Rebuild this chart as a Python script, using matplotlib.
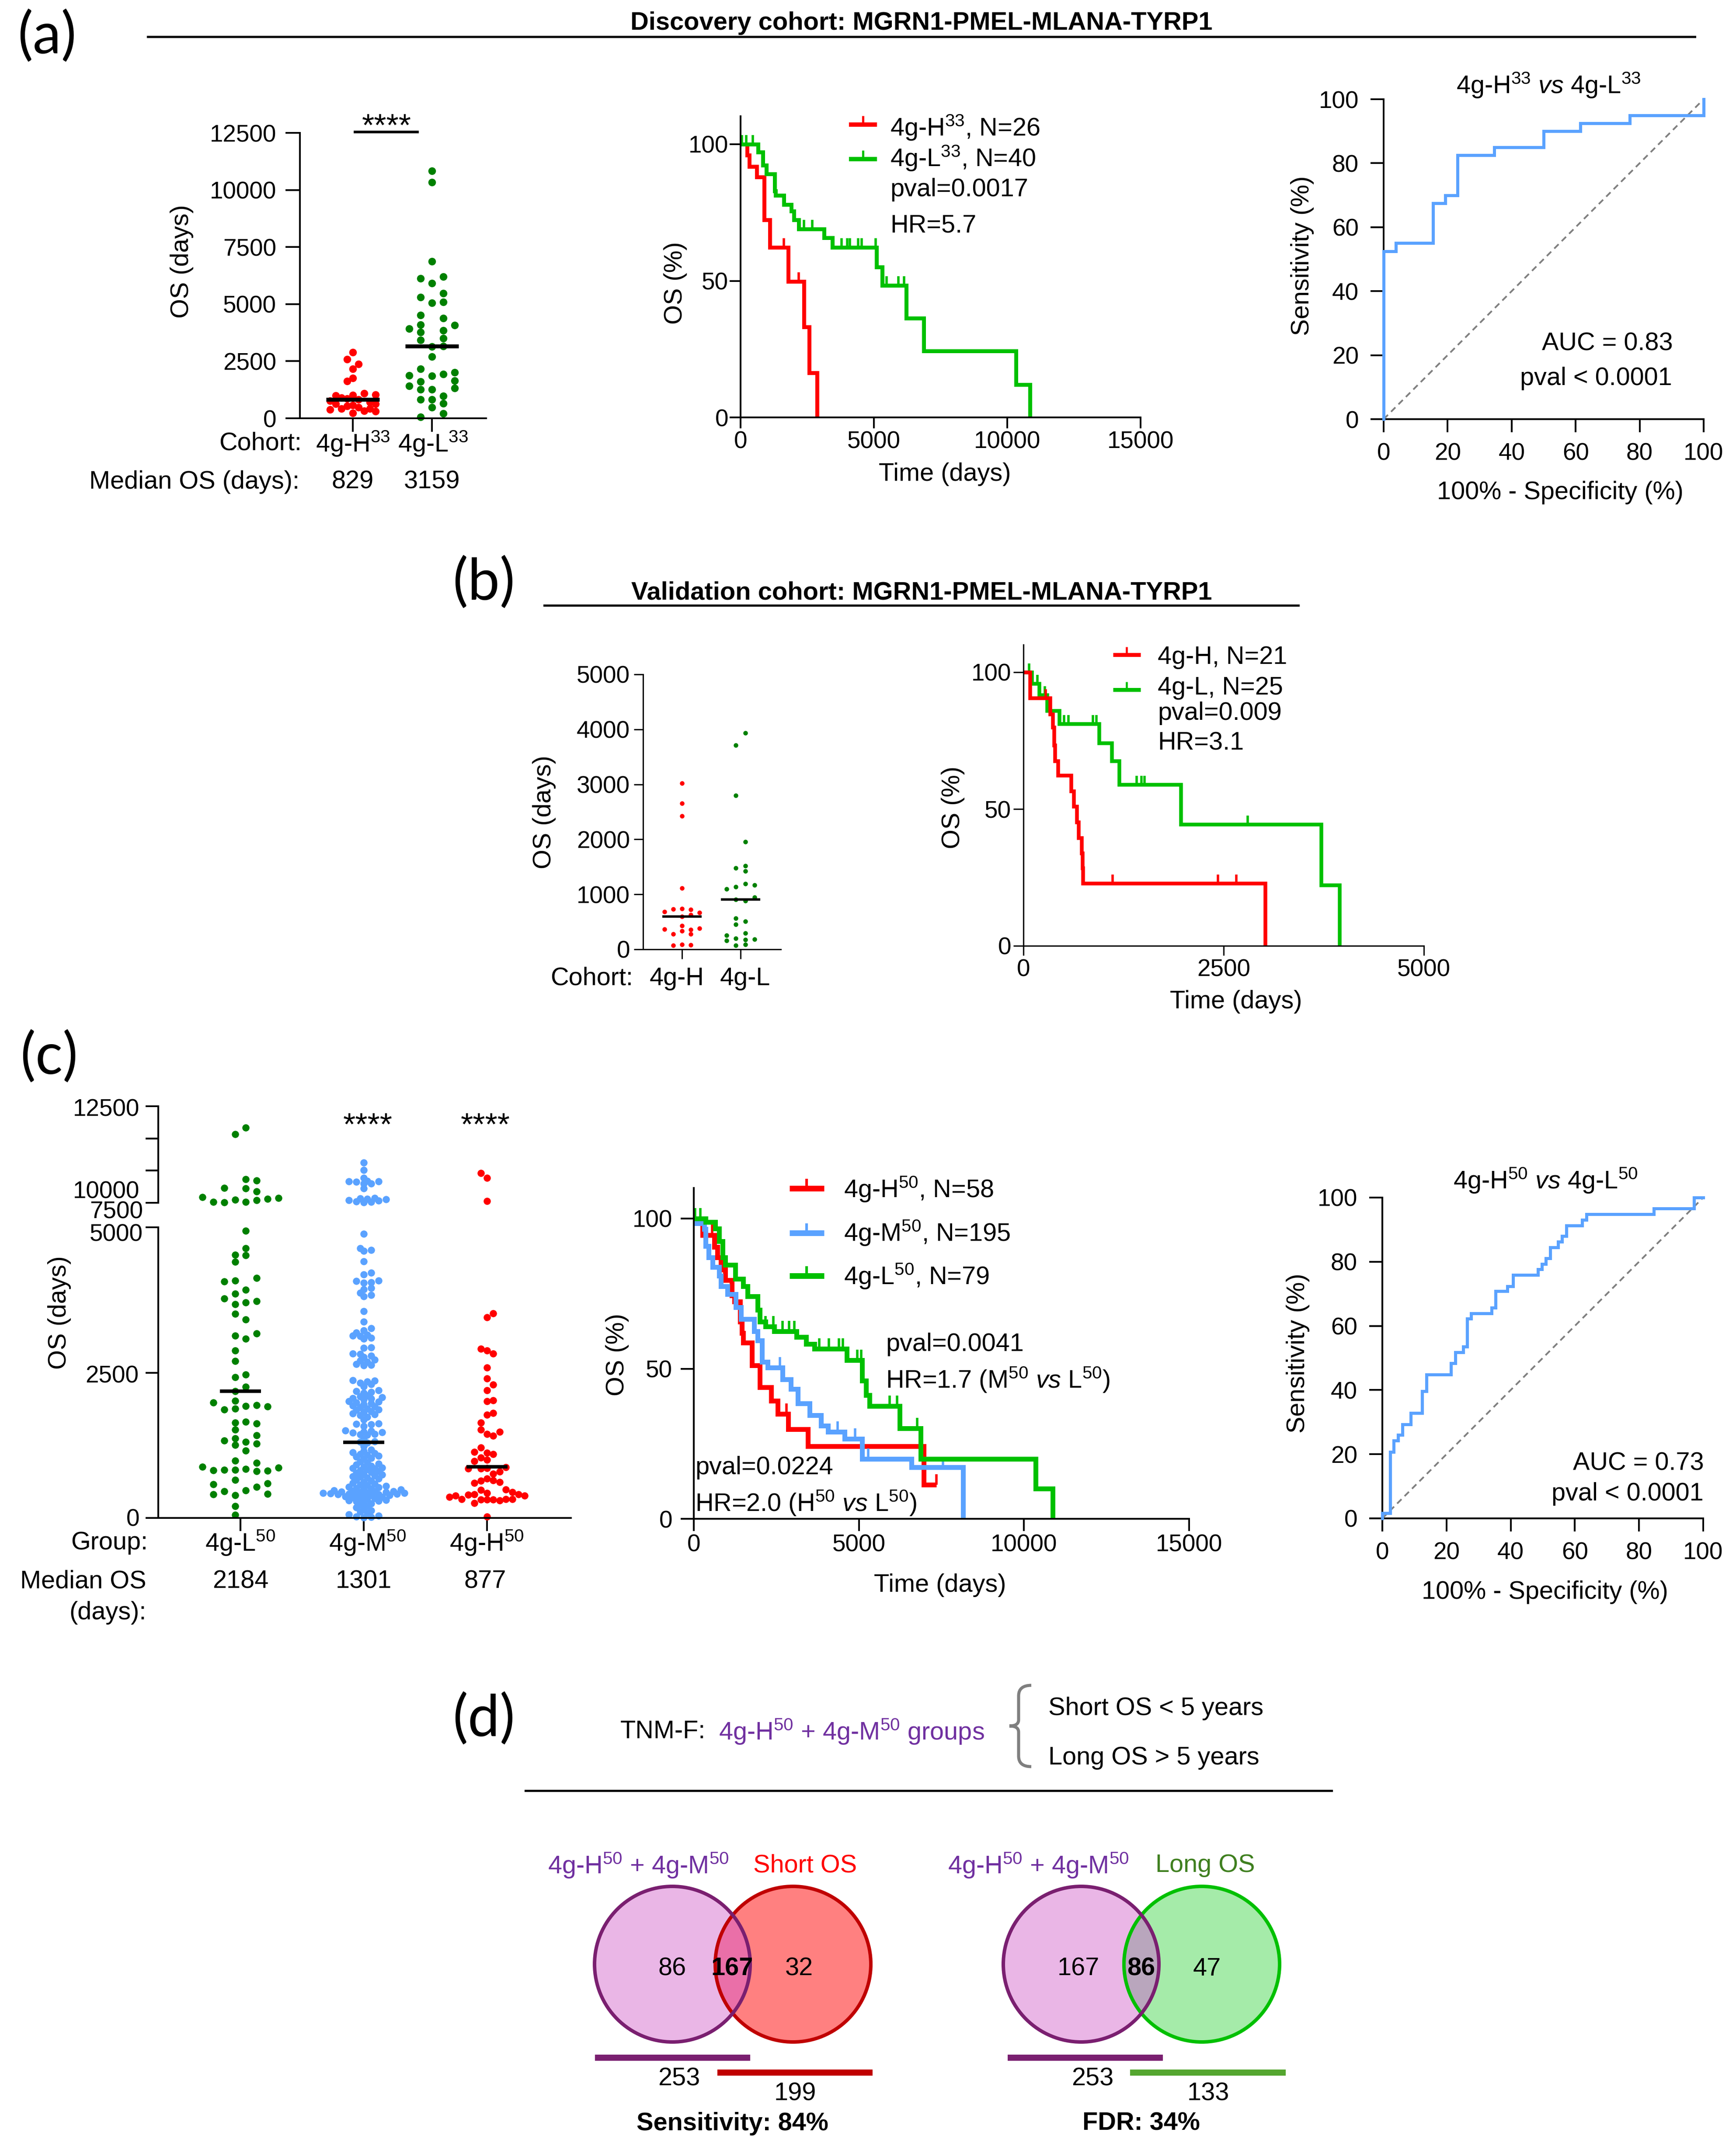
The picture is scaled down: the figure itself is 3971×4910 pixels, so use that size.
import numpy as np
import matplotlib
matplotlib.use("Agg")
import matplotlib.pyplot as plt
from matplotlib.patches import Circle, PathPatch
from matplotlib.path import Path

plt.rcParams['font.family'] = ['Liberation Sans', 'DejaVu Sans']
plt.rcParams['mathtext.fontset'] = 'custom'
plt.rcParams['mathtext.rm'] = 'Liberation Sans'
plt.rcParams['mathtext.it'] = 'Liberation Sans:italic'
plt.rcParams['mathtext.bf'] = 'Liberation Sans:bold'
plt.rcParams['mathtext.default'] = 'regular'

W, H = 3971, 4910
DPI = 100

RED = '#ff0000'
DOT_GREEN = '#008000'
KM_GREEN = '#00c000'
BLUE = '#5aa2ff'
PURPLE = '#7030a0'

# ---- panel a, dot plot: OS in days and the swarm column of each dot
a_h_os = [2881, 2588, 2383, 2168, 1768, 1631, 1035, 1094, 986, 1016, 898, 869, 820, 771, 700, 625,
          625, 576, 527, 430, 478, 381, 430, 332, 312, 234]
a_h_col = [0, -1, 1, 0, 0, -1, 4, 2, -3, 0, -2, -1, 1, -4, 3, 4, -3, 0, -1, -2, 1, -4, 3, 2, 4, 0]
a_l_os = [10840, 10332, 6865, 6211, 6123, 5908, 5469, 5303, 5098, 5049, 4512, 4385, 4102, 4072,
          3916, 3848, 3770, 3506, 3418, 3164, 3135, 2695, 2168, 2012, 1934, 1875, 1865, 1650, 1611,
          1426, 1318, 1260, 1260, 967, 830, 820, 645, 469, 205, 59]
a_l_col = [0, 0, 0, 1, -1, 0, 1, -1, 1, 0, -1, 1, -1, 2, -2, 1, -1, 1, -1, 1, 0, 0, -1, 2, 1, -2,
           0, 2, -1, -2, 2, -1, 0, 1, 0, -1, 1, 0, 1, -1]
a_medians = [829, 3159]

# ---- panel a, survival curves
a_km_h_x = [238, 326, 602, 878, 1091, 1780, 2382, 2570, 2871]
a_km_h_y = [96, 91.9, 88, 72.3, 62.3, 49.8, 33.1, 16.3, 0]
a_km_h_cens = [1630, 2182]
a_km_l_x = [652, 840, 966, 1279, 1317, 1630, 1906, 2006, 2182, 3135, 3436, 5104, 5317, 6207, 6872,
            10333, 10847]
a_km_l_y = [97.2, 92.3, 89.2, 82.9, 81.3, 78, 75.6, 72.3, 69, 65.8, 62.3, 55.1, 48.4, 36.4, 24.3,
            12, 0]
a_km_l_cens = [50, 213, 464, 2383, 2696, 3787, 4000, 4100, 4414, 4540, 5066, 5480, 5919, 6132]

# ---- panel a, ROC
a_roc_x = [0, 0, 3.8, 15.4, 19.2, 23.1, 34.6, 50, 61.5, 76.9, 100]
a_roc_y = [0, 52.5, 55, 67.5, 70, 82.5, 85, 90, 92.5, 95, 100]

# ---- panel b, dot plot
b_h_os = [3021, 2652, 2421, 1115, 734, 738, 726, 685, 669, 629, 596, 430, 385, 369, 357, 333, 276,
          276, 69, 85, 77]
b_h_col = [0, 0, 0, 0, -1, 0, 1, -2, 2, 1, 0, 0, 2, -2, 1, 0, -1, 1, -1, 0, 1]
b_l_os = [3937, 3710, 2798, 1954, 1516, 1476, 1419, 1196, 1172, 1139, 1095, 945, 904, 880, 568, 507,
          450, 292, 255, 199, 162, 178, 182, 69, 85]
b_l_col = [.5, -.5, -.5, .5, .5, -.5, .5, .5, 1.5, -.5, -1.5, 1.5, -.5, .5, -.5, .5, -.5, .5, -1.5,
           -.5, -1.5, .5, 1.5, -.5, .5]
b_medians = [596, 904]

# ---- panel b, survival curves
b_km_h_x = [84, 334, 364, 380, 395, 433, 594, 625, 667, 686, 725, 736, 740, 3017]
b_km_h_y = [90.5, 84.7, 79.9, 73.3, 67.6, 62.3, 56.6, 50.9, 45.2, 39.5, 33.8, 28.5, 22.8, 0]
b_km_h_cens = [276, 1112, 2427, 2657]
b_km_l_x = [104, 199, 295, 449, 947, 1100, 1196, 1963, 3719, 3945]
b_km_l_y = [95.8, 91.7, 86, 81.1, 74.1, 67.5, 59, 44.4, 22.2, 0]
b_km_l_cens = [69, 173, 265, 506, 564, 870, 909, 1415, 1472, 1514, 2799]

# ---- panel c, dot plot
c_l_os = [10836, 10317, 6838, 6730, 6168, 6103, 5887, 5455, 5390, 5304, 5196, 5239, 5066, 5066, 5023,
          4942, 4640, 4529, 4520, 4405, 4126, 4069, 4083, 3925, 3858, 3776, 3728, 3675, 3704, 3512,
          3416, 3171, 3138, 3080, 2879, 2696, 2466, 2418, 2255, 2178, 1986, 2015, 1924, 1938, 1914,
          1866, 1881, 1655, 1636, 1626, 1521, 1420, 1310, 1329, 1367, 1257, 1276, 1161, 984, 950,
          878, 868, 820, 825, 825, 840, 806, 811, 653, 595, 581, 537, 470, 456, 408, 417, 389, 206, 53]
c_l_col = [.5, -.5, .5, 1.5, -1.5, .5, 1.5, -3.5, 3.5, 2.5, 1.5, -.5, .5, -2.5, -1.5,
           .5, .5, -.5, .5, -.5, 1.5, -1.5, -.5, .5, -.5, -1.5, 1.5, -.5, .5, -.5,
           .5, 1.5, -.5, .5, -.5, -.5, .5, -.5, .5, -.5, -2.5, -.5, .5, 1.5, 2.5,
           -1.5, -.5, .5, -.5, 1.5, -.5, 1.5, .5, -1.5, -.5, -.5, 1.5, .5, -.5, 1.5,
           -3.5, 3.5, -2.5, -1.5, -.5, .5, 1.5, 2.5, -.5, 2.5, -2.5, 1.5, .5, -1.5, -2.5, 2.5, -.5,
           -.5, -.5]
c_m_os = [8113, 7530, 6925, 6665, 6709, 6665, 6622, 6492, 6492, 6103, 5325, 5304, 5369, 5260, 5196,
          5153, 5109, 5066, 5044, 4889, 4640, 4611, 4592, 4414, 4218, 4189, 4083, 4073, 4054, 4045,
          3958, 3929, 3872, 3833, 3814, 3560, 3378, 3263, 3224, 3191, 3152, 3138, 3128, 3095, 3080,
          2936, 2922, 2826, 2816, 2792, 2768, 2720, 2706, 2682, 2648, 2634, 2624,
          2370, 2361, 2346, 2327, 2298, 2265, 2193, 2178, 2169, 2154, 2106, 2087, 2073, 2058, 2049,
          2034, 2010, 2001, 1986, 1967, 1953, 1929, 1914, 1905, 1881, 1866, 1857, 1833, 1818, 1794,
          1780, 1770, 1737, 1689, 1626, 1617, 1607, 1579, 1507, 1497, 1483, 1473, 1463, 1444, 1434,
          1425, 1353, 1319, 1305, 1291, 1233, 1175, 1147, 1128, 1113, 1099, 1080, 1065, 1051, 1032,
          1017, 969, 955, 936, 921, 897, 883, 868, 859, 849, 835, 820, 801, 787, 772, 753, 744, 729,
          715, 705, 691, 676, 657, 638, 619, 600, 585, 571, 561, 547, 537, 528, 513, 504, 494, 485,
          475, 465, 461, 456, 451, 446, 441, 437, 432, 427, 422, 417, 413, 408, 403, 398, 393, 389,
          379, 369, 360, 350, 341, 331, 321, 312, 302, 293, 283, 273, 249, 225, 201, 178, 153, 130,
          106, 82, 58, 34, 19, 14, 10]
c_h_os = [7313, 6925, 5131, 3522, 3450, 2908, 2879, 2826, 2586, 2399, 2293, 2193, 2025, 2006, 1804,
          1775, 1636, 1521, 1483, 1444, 1411, 1209, 1137, 1123, 1099, 1041, 1003, 974, 849, 849, 859,
          873, 796, 763, 676, 638, 643, 605, 614, 480, 485, 441, 432, 408, 408, 398, 384, 384, 360,
          321, 317, 317, 317, 297, 321, 321, 259, 19]
c_h_col = [-1, 0, 0, 1, 0, -1, 0, 1, 0, 0, 1, 0, 1, 0, 1,
           0, -1, -1, 2, 0, 1, -1, -2, 0, 1, -1, 0, -2, -3, -1, 0,
           3, 2, 1, 0, -1, 1, -2, 2, -1, 3, 4, 0, 5, -2, -3, -5, 6, -6,
           -4, -1, 0, 1, 2, 3, 4, -2, 0]
c_medians = [2184, 1301, 877]

# ---- panel c, survival curves
c_km_h_x = [263, 617, 719, 820, 951, 1154, 1225, 1397, 1457, 1498, 1761, 2004, 2338, 2540, 2864, 3451,
            6963, 7347]
c_km_h_y = [94.5, 90.5, 87, 83, 79.5, 74.4, 72.4, 65.7, 61.8, 58.6, 51.1, 43.8, 39.3, 34.9, 29.8, 24.1,
            11.3, 11.3]
c_km_h_cens = [550, 2810, 7347]
c_km_m_x = [61, 314, 364, 445, 567, 769, 820, 1022, 1275, 1427, 1832, 1933, 2064, 2237, 2692, 2945, 3147,
            3502, 3856, 4058, 4564, 5100, 6588, 8157]
c_km_m_y = [98.4, 96.5, 90.9, 87, 83.8, 81, 77.5, 74.8, 70.4, 66.5, 62.5, 59.4, 52.3, 50.3, 46.4, 43.2,
            38.5, 34.5, 31, 29, 26.7, 20, 17.2, 0]
c_km_m_cens = [2610, 4360, 4890, 5280, 7550]
c_km_l_x = [364, 648, 769, 870, 951, 1255, 1498, 1629, 1933, 2004, 2166, 2439, 3117, 3400, 3653, 4635, 5100,
            5222, 5323, 6234, 6871, 10353, 10869]
c_km_l_y = [98.8, 96.7, 92.5, 87, 84.6, 79.9, 77.5, 74.1, 69.6, 65.7, 64.1, 62.5, 60.6, 58.2, 56.6, 52.9,
            46, 41.2, 37.5, 30.2, 20, 10.1, 0]
c_km_l_cens = [40, 192, 2166, 2410, 2690, 2890, 3040, 3800, 4090, 4390, 4510, 4950, 5070, 5930, 6150, 6770]

# ---- panel c, ROC
c_roc_x = [0, 0, 2.4, 3.6, 4.9, 6.2, 8.8, 12.4, 13.8, 21.4, 22.7, 25.2, 26.4, 27.7, 34, 35.3, 39, 40.8,
           48.5, 49.7, 51, 52.3, 54.8, 56, 57.3, 62.3, 63.6, 84.6, 97.2, 100]
c_roc_y = [0, 1.7, 20.7, 24.2, 26, 29.3, 32.8, 39.7, 44.8, 48.3, 51.8, 53.6, 62.2, 63.9, 65.6, 70.8, 72.4,
           75.9, 77.6, 79.3, 81.1, 84.5, 86.2, 88, 91.3, 93.1, 94.8, 96.6, 100, 100]

# ---- panel d
venn_short = [86, 167, 32]
venn_long = [167, 86, 47]
venn_totals = [253, 199, 253, 133]

TXT = 41.5


def pt(px):
    return px * 72 / DPI


def axes_px(x0, x1, ytop, ybot):
    return fig.add_axes([x0 / W, 1 - ybot / H, (x1 - x0) / W, (ybot - ytop) / H])


def style(ax, lw=4, xlen=30, ylen=30, xpad=1, ypad=3, size=39.5):
    for side in ['top', 'right']:
        ax.spines[side].set_visible(False)
    ax.spines['left'].set_linewidth(pt(lw))
    ax.spines['bottom'].set_linewidth(pt(lw))
    ax.tick_params(axis='x', length=pt(xlen), width=pt(lw), pad=pt(xpad), labelsize=size)
    ax.tick_params(axis='y', length=pt(ylen), width=pt(lw), pad=pt(ypad), labelsize=size)
    ax.patch.set_alpha(0)


def t(x, y, s, size=TXT, ha='left', va='center', rotation=0, **kw):
    # center alignment counts the descender, so nudge the text back onto the reading line
    if rotation:
        x = x + 4
    else:
        y = y + 6
    return over.text(x, y, s, fontsize=size, ha=ha, va=va, rotation=rotation, **kw)


def km(ax, x, y, cens, color, lw, tick=21, tick_w=5.5):
    xs = np.array([0] + x)
    ys = np.array([100] + y)
    ax.step(xs, ys, where='post', color=color, lw=pt(lw), solid_joinstyle='miter',
            solid_capstyle='butt', clip_on=False)
    idx = np.searchsorted(xs, cens, side='right') - 1
    ax.plot(cens, ys[idx], ls='none', marker=2, ms=pt(tick), mew=pt(tick_w), color=color, clip_on=False)


def km_key(x0, x1, y, color, lw, tick, tick_w):
    over.plot([x0, x1], [y, y], color=color, lw=pt(lw), solid_capstyle='butt')
    over.plot([(x0 + x1) / 2], [y], marker=2, ms=pt(tick), mew=pt(tick_w), color=color)


def km_axes(x0, x1, y100, y0, ytop, xmax, xticks, lw, xlen, ylen, xpad, ypad):
    ax = axes_px(x0, x1, ytop, y0)
    ax.set_xlim(0, xmax)
    ax.set_ylim(0, 100 * (y0 - ytop) / (y0 - y100))
    ax.set_xticks(xticks)
    ax.set_yticks([0, 50, 100])
    style(ax, lw=lw, xlen=xlen, ylen=ylen, xpad=xpad, ypad=ypad)
    return ax


def roc_axes(x0, x1, ytop, y0, x, y):
    ax = axes_px(x0, x1, ytop, y0)
    ax.set_xlim(0, 100)
    ax.set_ylim(0, 100)
    ax.set_xticks(range(0, 101, 20))
    ax.set_yticks(range(0, 101, 20))
    style(ax, lw=4, xlen=30, ylen=30, xpad=23, ypad=27)
    ax.plot([0, 100], [0, 100], color='#808080', lw=pt(4), ls=(0, (3.5, 2.5)), zorder=1)
    ax.step(x, y, where='post', color=BLUE, lw=pt(7), solid_joinstyle='miter', clip_on=False, zorder=3)
    return ax


def dot_axes(x0, x1, ytop, y0, cat1, cat2, ymax, yticks, labels, lw, xlen, ylen, xpad, ypad):
    ax = axes_px(x0, x1, ytop, y0)
    unit = cat2 - cat1
    ax.set_xlim(1 - (cat1 - x0) / unit, 1 + (x1 - cat1) / unit)
    ax.set_ylim(0, ymax)
    ax.set_yticks(yticks)
    ax.set_xticks(range(1, len(labels) + 1))
    ax.set_xticklabels(labels)
    style(ax, lw=lw, xlen=xlen, ylen=ylen, xpad=xpad, ypad=ypad)
    return ax


def dots(ax, pos, os_days, cols, step, color, size):
    ax.scatter(pos + np.array(cols) * step, os_days, s=pt(size) ** 2, color=color, lw=0, clip_on=False, zorder=2)


def median_bar(ax, pos, value, half, lw):
    ax.plot([pos - half, pos + half], [value, value], color='black', lw=pt(lw), solid_capstyle='butt',
            clip_on=False, zorder=4)


def swarm(values, step, gap, to_px, unit_px):
    # greedy spread of a dense group, lowest value first
    placed = []
    offsets = {}
    order = np.argsort(values)
    for i in order:
        y = to_px(values[i])
        for k in range(0, 60):
            cands = [k * step] if k == 0 else [k * step, -k * step]
            done = False
            for c in cands:
                if all((c - px) ** 2 + (y - py) ** 2 >= gap ** 2 for px, py in placed):
                    placed.append((c, y))
                    offsets[i] = c / unit_px
                    done = True
                    break
            if done:
                break
    return np.array([offsets[i] for i in range(len(values))])


fig = plt.figure(figsize=(W / DPI, H / DPI), dpi=DPI)

over = fig.add_axes([0, 0, 1, 1], zorder=10)
over.set_xlim(0, W)
over.set_ylim(H, 0)
over.axis('off')

# panel letters and headers
for s, x, y in [('(a)', 40, 78), ('(b)', 1035, 1328), ('(c)', 46, 2413), ('(d)', 1035, 3928)]:
    t(x, y, s, size=94, family=['Lato', 'DejaVu Sans'])

t(2108, 47, 'Discovery cohort: MGRN1-PMEL-MLANA-TYRP1', size=41.7, ha='center', weight='bold')
over.plot([338, 3877], [84, 84], color='black', lw=pt(5))
t(2108, 1351, 'Validation cohort: MGRN1-PMEL-MLANA-TYRP1', size=41.7, ha='center', weight='bold')
over.plot([1245, 2970], [1385, 1385], color='black', lw=pt(5))

# ---- panel a dot plot
ax = dot_axes(686, 1112, 304, 957, 807, 988, 12500, range(0, 12501, 2500),
              ['4g-H$^{33}$', '4g-L$^{33}$'], 4, 31, 33, 2, 21)
ax.set_xticklabels([])
dots(ax, 1, a_h_os, a_h_col, 0.0712, RED, 17.5)
dots(ax, 2, a_l_os, a_l_col, 0.1424, DOT_GREEN, 17.5)
for i, m in enumerate(a_medians):
    median_bar(ax, i + 1, m, 0.335, 9)
over.plot([812, 955], [302, 302], color='black', lw=pt(6))
t(884, 286, '****', size=52, ha='center')
t(412, 598, 'OS (days)', ha='center', rotation=90)
t(690, 1009, 'Cohort:', ha='right')
t(807, 1009, '4g-H$^{33}$', ha='center')
t(991, 1009, '4g-L$^{33}$', ha='center')
t(685, 1097, 'Median OS (days):', ha='right')
t(807, 1097, str(a_medians[0]), ha='center')
t(988, 1097, str(a_medians[1]), ha='center')

# ---- panel a survival
ax = km_axes(1694, 2609, 330, 955, 266, 15000, [0, 5000, 10000, 15000], 4, 25, 25, 6, 3)
km(ax, a_km_h_x, a_km_h_y, a_km_h_cens, RED, 9)
km(ax, a_km_l_x, a_km_l_y, a_km_l_cens, KM_GREEN, 9)
km_key(1942, 2006, 285, RED, 10, 20, 5)
km_key(1942, 2006, 364, KM_GREEN, 10, 20, 5)
t(2036, 286, '4g-H$^{33}$, N=26')
t(2036, 356, '4g-L$^{33}$, N=40')
t(2036, 428, 'pval=0.0017')
t(2036, 510, 'HR=5.7')
t(2161, 1079, 'Time (days)', ha='center')
t(1541, 647, 'OS (%)', ha='center', rotation=90)

# ---- panel a ROC
ax = roc_axes(3165, 3897, 227, 959, a_roc_x, a_roc_y)
t(3542, 189, '4g-H$^{33}$ $\\mathit{vs}$ 4g-L$^{33}$', ha='center')
t(3827, 781, 'AUC = 0.83', ha='right')
t(3825, 860, 'pval < 0.0001', ha='right')
t(3569, 1121, '100% - Specificity (%)', ha='center')
t(2975, 585, 'Sensitivity (%)', ha='center', rotation=90)

# ---- panel b dot plot
ax = dot_axes(1471, 1786, 1543, 2172, 1560, 1694, 5000, range(0, 5001, 1000),
              ['4g-H', '4g-L'], 3, 22, 21, 2, 9)
ax.set_xticklabels([])
dots(ax, 1, b_h_os, b_h_col, 0.148, RED, 10.5)
dots(ax, 2, b_l_os, b_l_col, 0.159, DOT_GREEN, 10.5)
for i, m in enumerate(b_medians):
    median_bar(ax, i + 1, m, 0.335, 5.5)
t(1241, 1858, 'OS (days)', ha='center', rotation=90)
t(1448, 2233, 'Cohort:', ha='right')
t(1548, 2233, '4g-H', ha='center')
t(1704, 2233, '4g-L', ha='center')

# ---- panel b survival
ax = km_axes(2341, 3257, 1538, 2164, 1475, 5000, [0, 2500, 5000], 3, 22, 23, 8, 5)
km(ax, b_km_l_x, b_km_l_y, b_km_l_cens, KM_GREEN, 8.5, tick=20)
km(ax, b_km_h_x, b_km_h_y, b_km_h_cens, RED, 8.5, tick=20)
km_key(2546, 2609, 1498, RED, 9, 18, 4.5)
km_key(2546, 2609, 1578, KM_GREEN, 9, 18, 4.5)
t(2648, 1498, '4g-H, N=21')
t(2648, 1568, '4g-L, N=25')
t(2648, 1626, 'pval=0.009')
t(2648, 1695, 'HR=3.1')
t(2827, 2286, 'Time (days)', ha='center')
t(2176, 1848, 'OS (%)', ha='center', rotation=90)

# ---- panel c dot plot, broken y axis
low = dot_axes(362, 1306, 2808, 3473, 550, 832, 5000, [0, 2500, 5000],
               ['4g-L$^{50}$', '4g-M$^{50}$', '4g-H$^{50}$'], 4, 30, 29, 2, 21)
low.set_yticklabels([])
low.set_xticklabels([])
up = dot_axes(362, 1306, 2531, 2752, 550, 832, 12500, [5000, 7500, 10000, 12500],
              ['', '', ''], 4, 30, 29, 2, 21)
up.set_ylim(5000, 12500)
up.set_yticklabels([])
up.spines['bottom'].set_visible(False)
up.set_xticks([])


def c_dots(pos, os_days, cols, step, color):
    os_days = np.array(os_days)
    cols = np.array(cols)
    hi = os_days >= 5000
    dots(up, pos, os_days[hi], cols[hi], step, color, 16.5)
    dots(low, pos, os_days[~hi], cols[~hi], step, color, 16.5)


def c_to_px(v):
    return v * 0.133 if v < 5000 else 721 + (v - 5000) * 0.0295


c_m_off = swarm(c_m_os, 8.5, 10.5, c_to_px, 1)
c_dots(1, c_l_os, c_l_col, 0.0878, DOT_GREEN)
c_dots(2, c_m_os, c_m_off, 1 / 283, BLUE)
c_dots(3, c_h_os, c_h_col, 0.051, RED)
for i, m in enumerate(c_medians):
    median_bar(low, i + 1, m, 0.166, 8)
for x, y, s in [(319, 2533, '12500'), (319, 2722, '10000'), (327, 2767, '7500'), (327, 2820, '5000'),
                (317, 3143, '2500'), (319, 3472, '0')]:
    t(x, y, s, size=39.5, ha='right')
t(841, 2572, '****', size=52, ha='center')
t(1110, 2572, '****', size=52, ha='center')
t(132, 3003, 'OS (days)', ha='center', rotation=90)
t(338, 3524, 'Group:', ha='right')
t(550, 3524, '4g-L$^{50}$', ha='center')
t(841, 3524, '4g-M$^{50}$', ha='center')
t(1113, 3524, '4g-H$^{50}$', ha='center')
t(335, 3612, 'Median OS', ha='right')
t(335, 3684, '(days):', ha='right')
for x, m in zip([550, 832, 1110], c_medians):
    t(x, 3612, str(m), ha='center')

# ---- panel c survival
ax = km_axes(1587, 2720, 2788, 3475, 2718, 15000, [0, 5000, 10000, 15000], 4, 28, 30, 6, 19)
km(ax, c_km_h_x, c_km_h_y, c_km_h_cens, RED, 11, tick=24)
km(ax, c_km_m_x, c_km_m_y, c_km_m_cens, BLUE, 11, tick=24)
km(ax, c_km_l_x, c_km_l_y, c_km_l_cens, KM_GREEN, 11, tick=24)
km_key(1806, 1885, 2719, RED, 13, 22, 6)
km_key(1806, 1885, 2821, BLUE, 13, 22, 6)
km_key(1806, 1885, 2919, KM_GREEN, 13, 22, 6)
t(1930, 2715, '4g-H$^{50}$, N=58')
t(1930, 2815, '4g-M$^{50}$, N=195')
t(1930, 2914, '4g-L$^{50}$, N=79')
t(2026, 3070, 'pval=0.0041')
t(2026, 3151, 'HR=1.7 (M$^{50}$ $\\mathit{vs}$ L$^{50}$)')
t(1590, 3352, 'pval=0.0224')
t(1590, 3433, 'HR=2.0 (H$^{50}$ $\\mathit{vs}$ L$^{50}$)')
t(2150, 3621, 'Time (days)', ha='center')
t(1408, 3100, 'OS (%)', ha='center', rotation=90)

# ---- panel c ROC
ax = roc_axes(3162, 3896, 2740, 3474, c_roc_x, c_roc_y)
t(3535, 2695, '4g-H$^{50}$ $\\mathit{vs}$ 4g-L$^{50}$', ha='center')
t(3898, 3342, 'AUC = 0.73', ha='right')
t(3897, 3412, 'pval < 0.0001', ha='right')
t(3534, 3637, '100% - Specificity (%)', ha='center')
t(2965, 3096, 'Sensitivity (%)', ha='center', rotation=90)

# ---- panel d
t(1419, 3956, 'TNM-F:')
t(1644, 3956, '4g-H$^{50}$ + 4g-M$^{50}$ groups', color=PURPLE)
t(2398, 3903, 'Short OS < 5 years')
t(2398, 4016, 'Long OS > 5 years')
brace = Path([(2359, 3856), (2330, 3856), (2330, 3880), (2330, 3935), (2330, 3949), (2309, 3949),
              (2330, 3949), (2330, 3963), (2330, 4018), (2330, 4042), (2359, 4042)],
             [Path.MOVETO, Path.CURVE3, Path.CURVE3, Path.LINETO, Path.CURVE3, Path.CURVE3,
              Path.CURVE3, Path.CURVE3, Path.LINETO, Path.CURVE3, Path.CURVE3])
over.add_patch(PathPatch(brace, fc='none', ec='#7f7f7f', lw=pt(7)))
over.plot([1202, 3046], [4097, 4097], color='black', lw=pt(5))

t(1253, 4262, '4g-H$^{50}$ + 4g-M$^{50}$', color=PURPLE)
t(1723, 4262, 'Short OS', color=RED)
t(2168, 4262, '4g-H$^{50}$ + 4g-M$^{50}$', color=PURPLE)
t(2643, 4262, 'Long OS', color='#3f7f1f')


def venn(cx1, cx2, cy, r, fill2, edge2, lens):
    over.add_patch(Circle((cx2, cy), r, fc=fill2, ec='none'))
    over.add_patch(Circle((cx1, cy), r, fc='#eab6e6', ec='none'))
    clip = Circle((cx2, cy), r, transform=over.transData)
    over.add_patch(Circle((cx1, cy), r, fc=lens, ec='none', clip_path=clip))
    over.add_patch(Circle((cx2, cy), r, fc='none', ec=edge2, lw=pt(8)))
    over.add_patch(Circle((cx1, cy), r, fc='none', ec='#7a1f70', lw=pt(8)))


venn(1538, 1814, 4494, 178, '#ff8080', '#c00000', '#ea6fa8')
venn(2473, 2749, 4494, 178, '#a5eba9', '#00c000', '#b9a6bd')
for x, v, w in zip([1538, 1675, 1828], venn_short, ['normal', 'bold', 'normal']):
    t(x, 4499, str(v), ha='center', weight=w)
for x, v, w in zip([2467, 2610, 2761], venn_long, ['normal', 'bold', 'normal']):
    t(x, 4499, str(v), ha='center', weight=w)

for x0, x1, y, c in [(1361, 1716, 4708, '#7a1f70'), (1641, 1996, 4742, '#c00000'),
                     (2305, 2660, 4708, '#7a1f70'), (2585, 2941, 4742, '#55a630')]:
    over.plot([x0, x1], [y, y], color=c, lw=pt(14), solid_capstyle='butt')
for x, y, v in zip([1553, 1819, 2499, 2764], [4750, 4784, 4750, 4784], venn_totals):
    t(x, y, str(v), ha='center')
t(1675, 4853, 'Sensitivity: 84%', ha='center', weight='bold')
t(2610, 4853, 'FDR: 34%', ha='center', weight='bold')

fig.savefig('out.png', dpi=DPI)
